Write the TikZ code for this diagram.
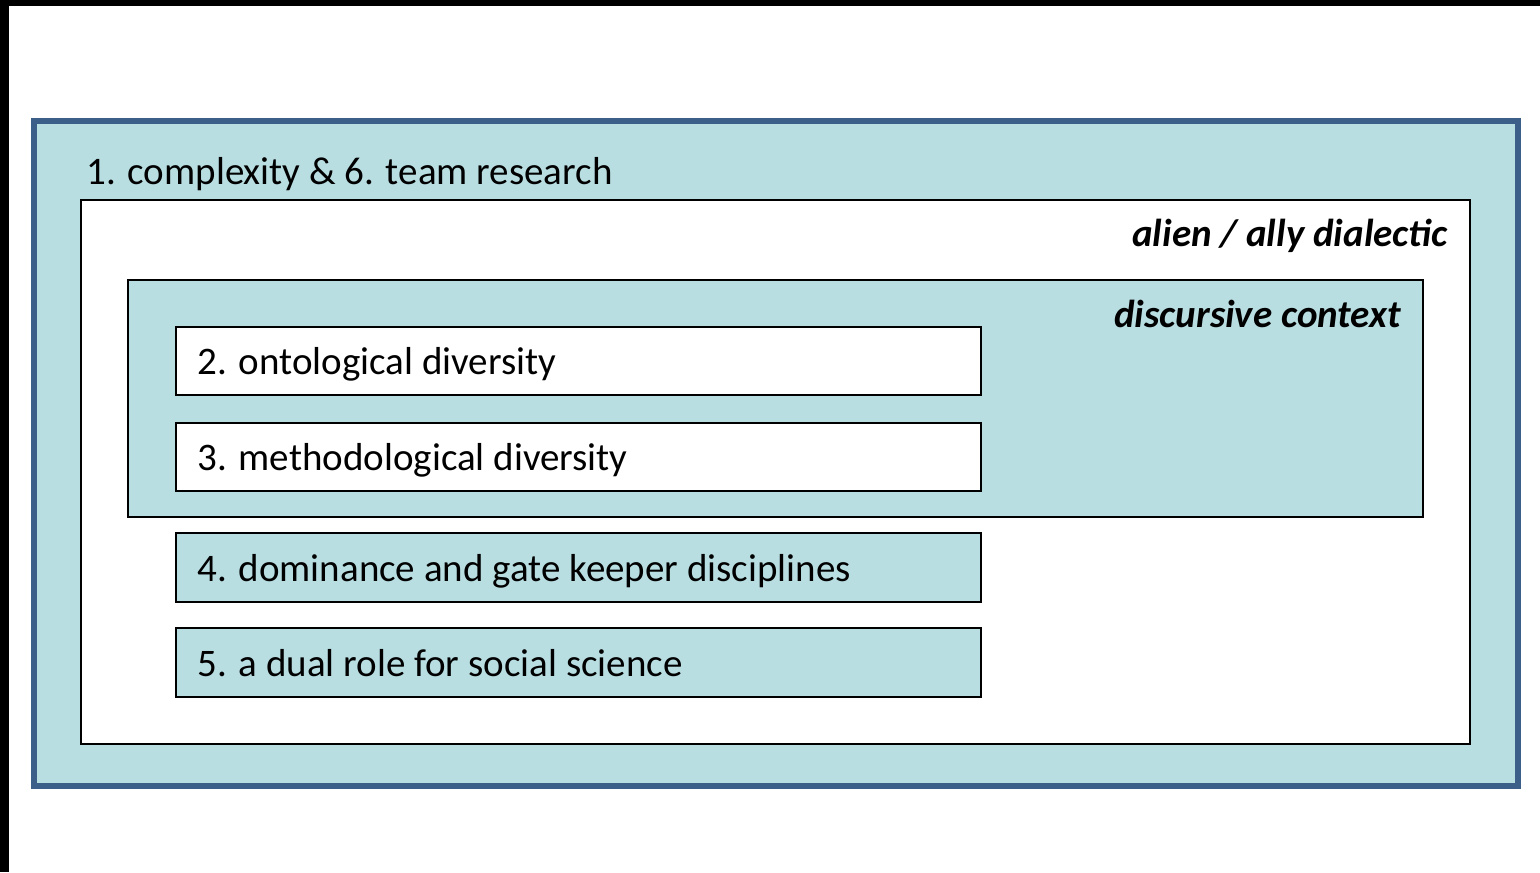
\documentclass[tikz,border=0pt]{standalone}
\usepackage{fontspec}
\setmainfont{Carlito}
\usepackage{tikz}
\usetikzlibrary{positioning}
\definecolor{paleblue}{RGB}{184,222,226}
\definecolor{frameblue}{RGB}{60,95,138}
\tikzset{
    layer/.style={draw=black, line width=1pt},
    itembox/.style={draw=black, line width=1pt},
    lbl/.style={anchor=base west, inner sep=0pt, font=\fontsize{19.5}{22}\selectfont},
    tag/.style={anchor=base east, inner sep=0pt, font=\fontsize{19.5}{22}\selectfont\bfseries\itshape}
}

\begin{document}
\begin{tikzpicture}[x=0.5pt, y=-0.5pt]
        \useasboundingbox (0,0) rectangle (1540,872);
        \path[fill=white] (0,0) rectangle (1540,872);
        % black edges of the page
        \path[fill=black] (0,0) rectangle (1540,6);
        \path[fill=black] (0,0) rectangle (9,872);

        % nested layers
        \path[fill=paleblue, draw=frameblue, line width=3pt] (33.5,121) rectangle (1518,786);
        \path[fill=white, layer] (81,200) rectangle (1470,744);
        \path[fill=paleblue, layer] (128,280) rectangle (1423,517);

        % numbered items
        \path[fill=white, itembox] (176,327) rectangle (981,395);
        \path[fill=white, itembox] (176,423) rectangle (981,491);
        \path[fill=paleblue, itembox] (176,533) rectangle (981,602);
        \path[fill=paleblue, itembox] (176,628) rectangle (981,697);

        \node[lbl] (complexity) at (86,184) {1. complexity \& 6. team research};
        \node[tag] (dialectic) at (1448,246) {alien / ally dialectic};
        \node[tag] (context) at (1401,327) {discursive context};
        \node[lbl] (ontology) at (197,374) {2. ontological diversity};
        \node[lbl] (method) at (197,470) {3. methodological diversity};
        \node[lbl] (dominance) at (197,581) {4. dominance and gate keeper disciplines};
        \node[lbl] (dualrole) at (197,676) {5. a dual role for social science};
    \end{tikzpicture}
\end{document}
